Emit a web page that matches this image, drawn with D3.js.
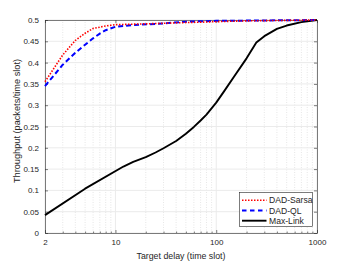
<!DOCTYPE html>
<html>
<head>
<meta charset="utf-8">
<script src="https://cdn.jsdelivr.net/npm/d3@7"></script>
<style>
  body { margin: 0; background: #fff; }
  text { font-family: "Liberation Sans", Arial, sans-serif; fill: #262626; }
</style>
</head>
<body>
<div id="chart"></div>
<script>
// data
const sarsaDelay = [2, 3, 4, 5, 6, 8, 10, 20, 50, 100, 200, 1000];
const sarsaThru  = [0.355, 0.418, 0.452, 0.469, 0.480, 0.486, 0.489, 0.491, 0.494, 0.496, 0.498, 0.5];
const qlDelay = [2, 3, 4, 5, 6, 7, 8, 10, 15, 30, 50, 100, 1000];
const qlThru  = [0.345, 0.395, 0.423, 0.442, 0.457, 0.468, 0.476, 0.484, 0.488, 0.492, 0.496, 0.498, 0.5];
const mlDelay = [2, 5, 12, 15, 20, 25, 30, 40, 50, 60, 70, 80, 100, 120, 150, 200, 250, 300, 400, 500, 700, 1000];
const mlThru  = [0.042, 0.104, 0.156, 0.167, 0.178, 0.189, 0.199, 0.216, 0.233, 0.249, 0.264, 0.278, 0.306, 0.333, 0.367, 0.41, 0.447, 0.462, 0.479, 0.487, 0.495, 0.5];
const yTicks = [0, 0.05, 0.1, 0.15, 0.2, 0.25, 0.3, 0.35, 0.4, 0.45, 0.5];
const xTicks = [2, 10, 100, 1000];

const series = [
  {name: 'DAD-Sarsa', x: sarsaDelay, y: sarsaThru, color: '#ff0000', width: 1.6, dash: '1.5,1.5'},
  {name: 'DAD-QL', x: qlDelay, y: qlThru, color: '#0000ff', width: 2, dash: '5,3'},
  {name: 'Max-Link', x: mlDelay, y: mlThru, color: '#000000', width: 1.9, dash: null}
];

const W = 350, H = 263;
const m = {left: 45, top: 20, right: 33, bottom: 30};

const x = d3.scaleLog().domain([2, 1000]).range([m.left, W - m.right]);
const y = d3.scaleLinear().domain([0, 0.5]).range([H - m.bottom, m.top]);

const svg = d3.select('#chart').append('svg')
  .attr('width', W).attr('height', H);

// minor decade positions for the log axis
const minor = [];
[1, 10, 100].forEach(d => {
  for (let k = 2; k <= 9; k++) {
    const v = d * k;
    if (v > 2 && v < 1000) minor.push(v);
  }
});

// minor grid (dotted, x only)
svg.append('g').selectAll('line').data(minor).join('line')
  .attr('x1', d => x(d)).attr('x2', d => x(d))
  .attr('y1', y(0)).attr('y2', y(0.5))
  .attr('stroke', '#e0e0e0').attr('stroke-width', 0.8).attr('stroke-dasharray', '1,1.5');

// major grid
svg.append('g').selectAll('line').data(yTicks).join('line')
  .attr('x1', x(2)).attr('x2', x(1000))
  .attr('y1', d => y(d)).attr('y2', d => y(d))
  .attr('stroke', '#ebebeb').attr('stroke-width', 1);
svg.append('g').selectAll('line').data(xTicks).join('line')
  .attr('x1', d => x(d)).attr('x2', d => x(d))
  .attr('y1', y(0)).attr('y2', y(0.5))
  .attr('stroke', '#ebebeb').attr('stroke-width', 1);

// axes
const fmt = d => d === 0 ? '0' : String(d);
const yAx = svg.append('g').attr('transform', `translate(${x(2)},0)`)
  .call(d3.axisLeft(y).tickValues(yTicks).tickFormat(fmt).tickSizeInner(-3).tickSizeOuter(0).tickPadding(6));
const yAxR = svg.append('g').attr('transform', `translate(${x(1000)},0)`)
  .call(d3.axisRight(y).tickValues(yTicks).tickFormat('').tickSizeInner(-3).tickSizeOuter(0));
const xAx = svg.append('g').attr('transform', `translate(0,${y(0)})`)
  .call(d3.axisBottom(x).tickValues(xTicks).tickFormat(d3.format('d')).tickSizeInner(-3).tickSizeOuter(0).tickPadding(6));
const xMinorTicks = svg.append('g').attr('transform', `translate(0,${y(0)})`)
  .call(d3.axisBottom(x).tickValues(minor).tickFormat('').tickSizeInner(-1.5).tickSizeOuter(0));
const xAxT = svg.append('g').attr('transform', `translate(0,${y(0.5)})`)
  .call(d3.axisTop(x).tickValues(xTicks).tickFormat('').tickSizeInner(-3).tickSizeOuter(0));
[yAx, yAxR, xAx, xAxT, xMinorTicks].forEach(g => {
  g.selectAll('path, line').attr('stroke', '#262626').attr('stroke-width', 0.6);
  g.selectAll('text').attr('font-size', 8).attr('fill', '#262626').style('font-family', '"Liberation Sans", Arial, sans-serif');
});
xMinorTicks.select('path').remove();

// lines
const line = d3.line().x(d => x(d[0])).y(d => y(d[1]));
series.slice().reverse().forEach(s => {
  svg.append('path')
    .datum(s.x.map((v, i) => [v, s.y[i]]))
    .attr('d', line)
    .attr('fill', 'none')
    .attr('stroke', s.color)
    .attr('stroke-width', s.width)
    .attr('stroke-linejoin', 'round')
    .attr('stroke-dasharray', s.dash);
});

// labels
svg.append('text')
  .attr('x', (x(2) + x(1000)) / 2).attr('y', 259)
  .attr('text-anchor', 'middle').attr('font-size', 8.8)
  .text('Target delay (time slot)');
svg.append('text')
  .attr('transform', 'translate(19.5,121) rotate(-90)')
  .attr('text-anchor', 'middle').attr('font-size', 9.2)
  .text('Throughput (packets/time slot)');

// legend
const lg = svg.append('g');
lg.append('rect')
  .attr('x', 239.5).attr('y', 192.5).attr('width', 73).attr('height', 34)
  .attr('fill', '#fff').attr('stroke', '#262626').attr('stroke-width', 0.6);
series.forEach((s, i) => {
  const yy = 200.3 + i * 10.2;
  lg.append('line')
    .attr('x1', 242).attr('x2', 266.5).attr('y1', yy).attr('y2', yy)
    .attr('stroke', s.color).attr('stroke-width', s.width)
    .attr('stroke-dasharray', s.name === 'DAD-QL' ? '4.5,3.5' : s.dash);
  lg.append('text')
    .attr('x', 269).attr('y', yy + 3)
    .attr('font-size', 8.6).attr('fill', '#000')
    .text(s.name);
});
</script>
</body>
</html>
